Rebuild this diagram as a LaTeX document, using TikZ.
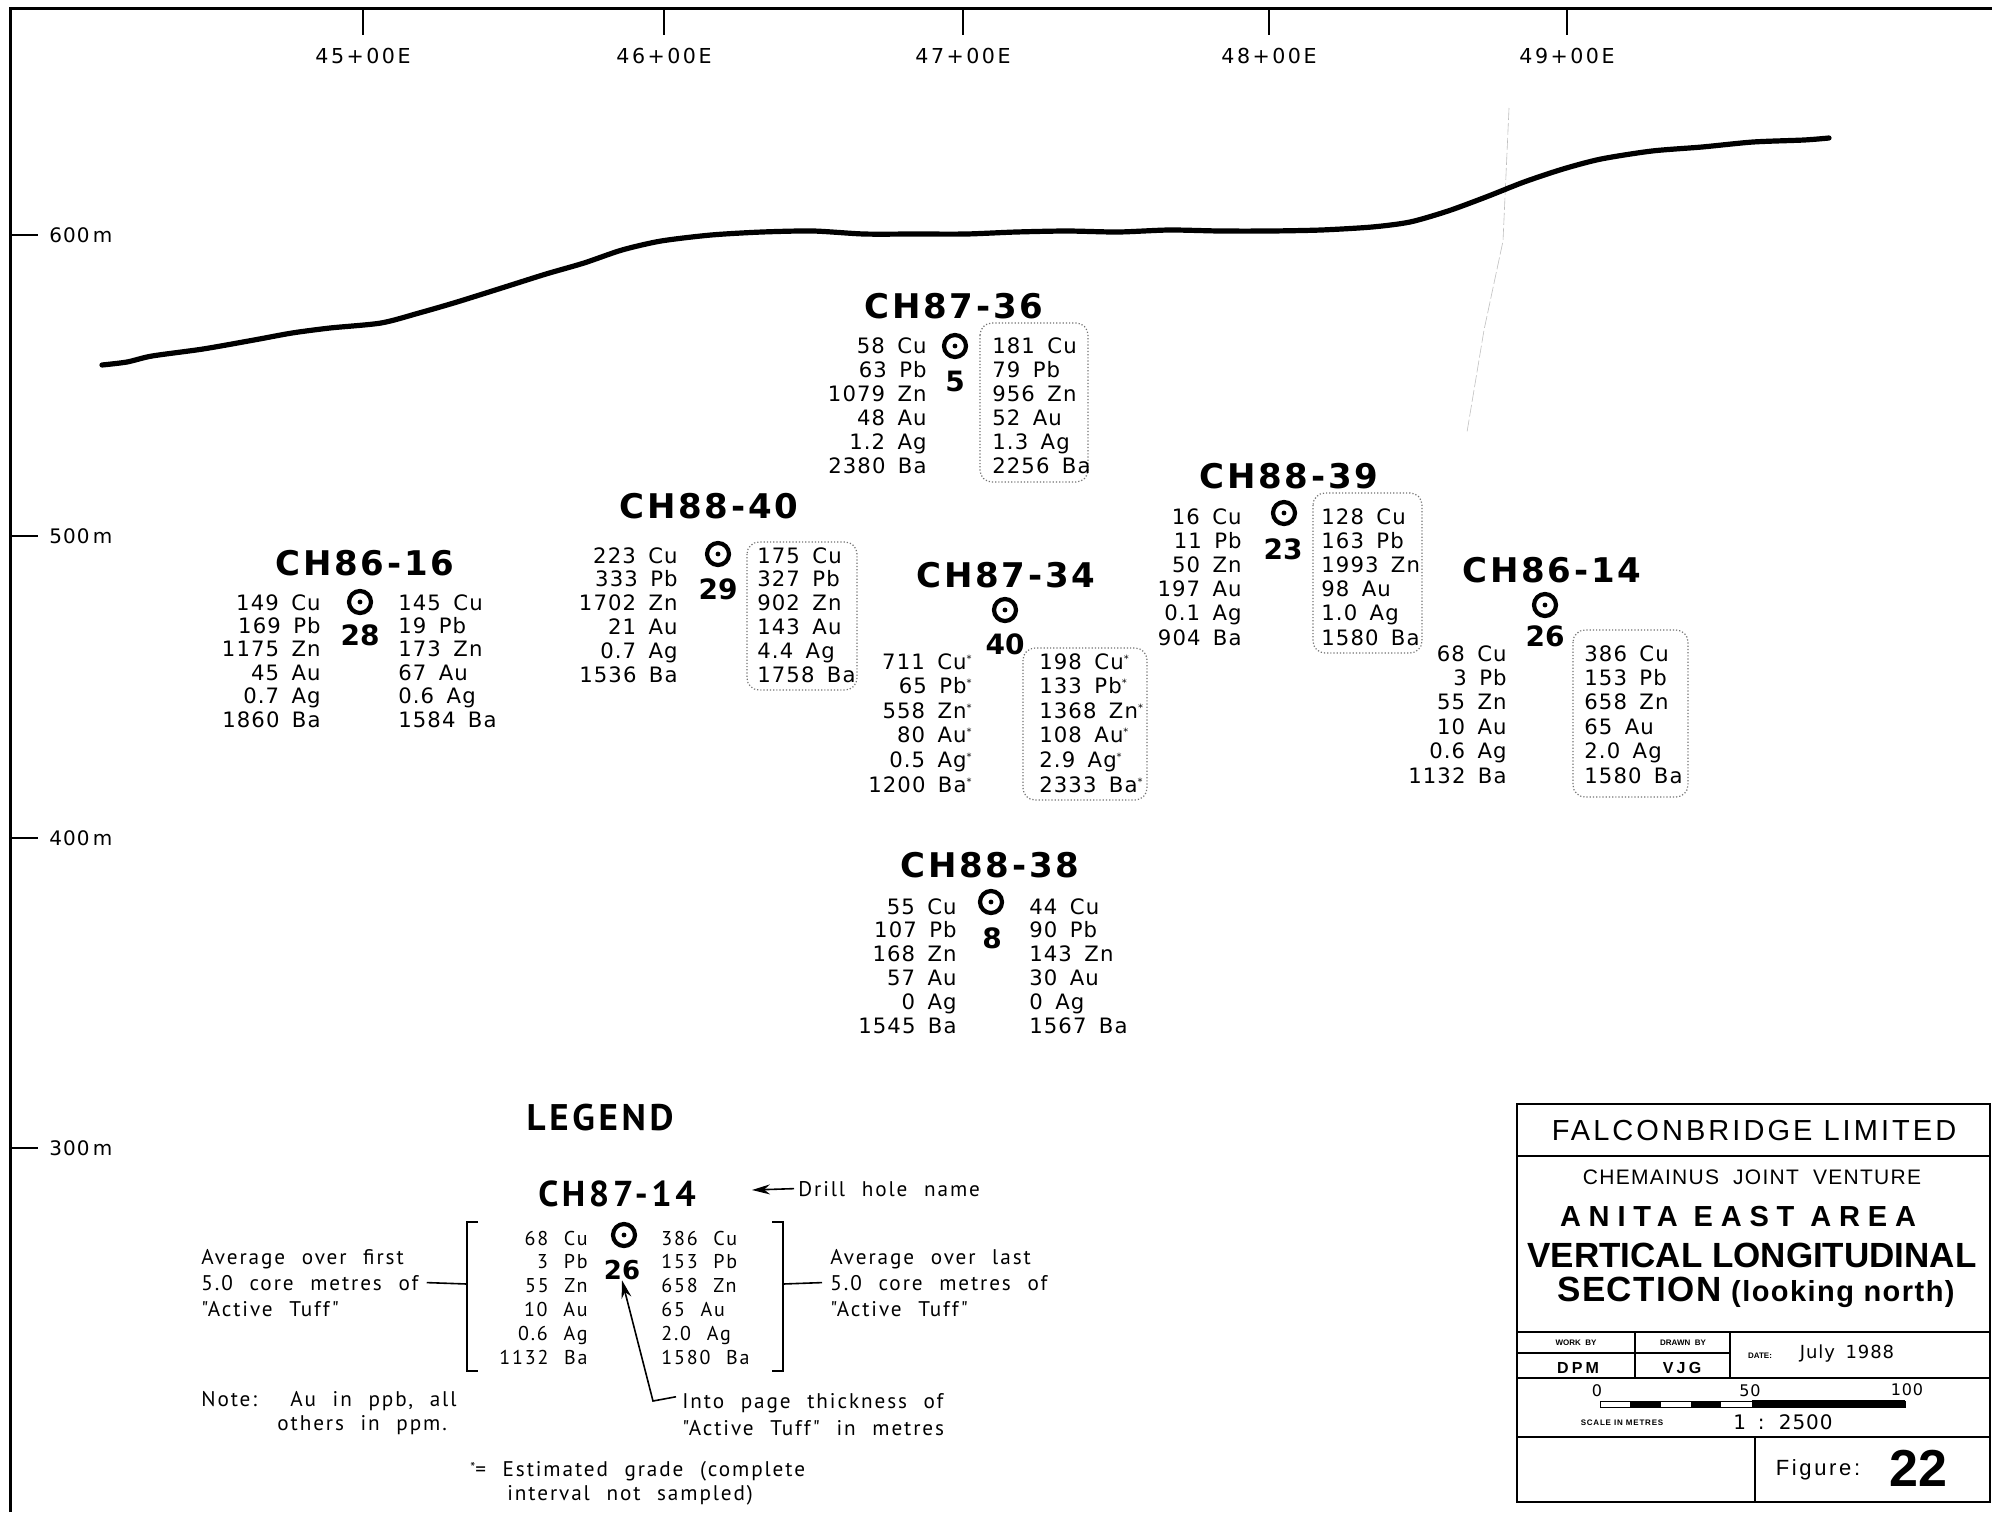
\documentclass[tikz,border=0pt]{standalone}
\usepackage{fontspec}
\usetikzlibrary{arrows.meta}
\newfontfamily\datf{DejaVu Sans}[LetterSpace=5,WordSpace=1.6]
\newfontfamily\ttlf{DejaVu Sans}[LetterSpace=8]
\newfontfamily\numf{DejaVu Sans}
\newfontfamily\legf{PT Sans}[WordSpace=2.2,LetterSpace=9]
\newfontfamily\legbf{PT Sans}[LetterSpace=10]
\newfontfamily\tbf{Liberation Sans}
\newfontfamily\tbw{Liberation Sans}[LetterSpace=6,WordSpace=2]
\newfontfamily\tbfs{Liberation Sans}[LetterSpace=27]
\newcommand\st{\raisebox{0.6ex}{\tiny*}}
\tikzset{
  ttl/.style={font=\ttlf\bfseries\fontsize{17}{18}\selectfont, inner sep=0},
  thick-num/.style={font=\numf\bfseries\fontsize{14}{15}\selectfont, inner sep=0},
  lcol/.style={font=\datf\fontsize{10.6}{12}\selectfont, inner sep=0, anchor=base east},
  rcol/.style={font=\datf\fontsize{10.6}{12}\selectfont, inner sep=0, anchor=base west},
  llcol/.style={font=\legf\fontsize{10}{11}\selectfont, inner sep=0, anchor=base east},
  lrcol/.style={font=\legf\fontsize{10}{11}\selectfont, inner sep=0, anchor=base west},
  hole/.style={circle, draw, line width=2.1pt, minimum size=11pt, inner sep=0},
  holedot/.style={circle, fill, minimum size=2.4pt, inner sep=0},
  hibox/.style={draw=black!55, densely dotted, line width=0.6pt, rounded corners=6pt},
  elab/.style={font=\datf\fontsize{10.3}{11}\selectfont\addfontfeatures{LetterSpace=12}, inner sep=0},
  mlab/.style={font=\datf\fontsize{10}{11}\selectfont, inner sep=0, anchor=west},
  legtxt/.style={font=\legf\fontsize{10.6}{12}\selectfont, inner sep=0, anchor=base west},
  tb/.style={inner sep=0},
}
\newcommand\rows[7]{%
  \foreach \i/\l/\r in {#7} {
    \node[#6 l] (#1l\i) at (#2, {#4+\i*#5}) {\l};
    \node[#6 r] (#1r\i) at (#3, {#4+\i*#5}) {\r};
  }}
\tikzset{d l/.style={lcol}, d r/.style={rcol}, g l/.style={llcol}, g r/.style={lrcol}}
\begin{document}
\begin{tikzpicture}[x=0.5pt,y=-0.5pt]
\useasboundingbox (0,0) rectangle (1992,1512);
\fill[white] (0,0) rectangle (1992,1512);
% frame
\draw[line width=1.5pt] (10,1512) -- (10,8) -- (1992,8);
\foreach \x/\lab [count=\k] in {363/45,664/46,963/47,1269/48,1567/49} {
  \draw[line width=0.9pt] (\x,8) -- (\x,35);
  \node[elab] (e\k) at (\x,56) {\lab+00E};
}
\foreach \y/\lab [count=\k] in {235/600,536/500,838/400,1148/300} {
  \draw[line width=1.2pt] (10,\y) -- (38,\y);
  \node[mlab] (m\k) at (49,\y) {\lab\,m};
}
% faint pencil line
\draw[black!25, line width=0.3pt, dash pattern=on 6pt off 1.5pt] (1509,108) -- (1503,241) -- (1484,330) -- (1467,432);
% terrain
\draw[line width=2.6pt, line cap=round, line join=round] plot[smooth, tension=0.45] coordinates {
 (102,365) (127,362) (152,356) (203,349) (254,340) (292,333) (330,328) (381,323)
 (419,313) (457,302) (508,286) (546,274) (584,263) (622,250) (661,241) (711,235)
 (762,232) (813,231) (864,234) (915,234) (966,234) (1016,232) (1067,231) (1118,232)
 (1169,230) (1220,231) (1270,231) (1321,230) (1372,227) (1410,222) (1448,211)
 (1486,197) (1524,182) (1563,169) (1601,159) (1652,151) (1702,147) (1753,142)
 (1804,140) (1829,138)};

% highlight boxes
\draw[hibox] (980,323) rectangle (1088,482);
\draw[hibox] (747,542) rectangle (857,690);
\draw[hibox] (1313,493) rectangle (1422,653);
\draw[hibox] (1023,648) rectangle (1147,800);
\draw[hibox] (1573,630) rectangle (1688,797);

% CH87-36
\node[ttl] (t36) at (954,306) {CH87-36};
\node[hole] (c36) at (955,346) {}; \node[holedot] (d36) at (c36) {};
\node[thick-num] (n36) at (955,381) {5};
\rows{h36}{927}{992}{353}{24}{d}{0/58 Cu/181 Cu,1/63 Pb/79 Pb,2/1079 Zn/956 Zn,3/48 Au/52 Au,4/1.2 Ag/1.3 Ag,5/2380 Ba/2256 Ba}

% CH88-40
\node[ttl] (t40) at (709,506) {CH88-40};
\node[hole] (c40) at (718,554) {}; \node[holedot] (d40) at (c40) {};
\node[thick-num] (n40) at (718,589) {29};
\rows{h40}{678}{757}{563}{23.8}{d}{0/223 Cu/175 Cu,1/333 Pb/327 Pb,2/1702 Zn/902 Zn,3/21 Au/143 Au,4/0.7 Ag/4.4 Ag,5/1536 Ba/1758 Ba}

% CH86-16
\node[ttl] (t16) at (365,563) {CH86-16};
\node[hole] (c16) at (360,602) {}; \node[holedot] (d16) at (c16) {};
\node[thick-num] (n16) at (360,635) {28};
\rows{h16}{321}{398}{610}{23.4}{d}{0/149 Cu/145 Cu,1/169 Pb/19 Pb,2/1175 Zn/173 Zn,3/45 Au/67 Au,4/0.7 Ag/0.6 Ag,5/1860 Ba/1584 Ba}

% CH88-39
\node[ttl] (t39) at (1289,476) {CH88-39};
\node[hole] (c39) at (1284,513) {}; \node[holedot] (d39) at (c39) {};
\node[thick-num] (n39) at (1283,549) {23};
\rows{h39}{1242}{1321}{524}{24.2}{d}{0/16 Cu/128 Cu,1/11 Pb/163 Pb,2/50 Zn/1993 Zn,3/197 Au/98 Au,4/0.1 Ag/1.0 Ag,5/904 Ba/1580 Ba}

% CH87-34
\node[ttl] (t34) at (1006,575) {CH87-34};
\node[hole] (c34) at (1005,610) {}; \node[holedot] (d34) at (c34) {};
\node[thick-num] (n34) at (1005,644) {40};
\rows{h34}{972}{1039}{669}{24.6}{d}{0/711 Cu\st/198 Cu\st,1/65 Pb\st/133 Pb\st,2/558 Zn\st/1368 Zn\st,3/80 Au\st/108 Au\st,4/0.5 Ag\st/2.9 Ag\st,5/1200 Ba\st/2333 Ba\st}

% CH86-14
\node[ttl] (t14) at (1552,570) {CH86-14};
\node[hole] (c14) at (1545,605) {}; \node[holedot] (d14) at (c14) {};
\node[thick-num] (n14) at (1545,636) {26};
\rows{h14}{1507}{1584}{661}{24.4}{d}{0/68 Cu/386 Cu,1/3 Pb/153 Pb,2/55 Zn/658 Zn,3/10 Au/65 Au,4/0.6 Ag/2.0 Ag,5/1132 Ba/1580 Ba}

% CH88-38
\node[ttl] (t38) at (990,865) {CH88-38};
\node[hole] (c38) at (991,902) {}; \node[holedot] (d38) at (c38) {};
\node[thick-num] (n38) at (992,938) {8};
\rows{h38}{957}{1029}{914}{23.8}{d}{0/55 Cu/44 Cu,1/107 Pb/90 Pb,2/168 Zn/143 Zn,3/57 Au/30 Au,4/0 Ag/0 Ag,5/1545 Ba/1567 Ba}

% LEGEND
\node[font=\legbf\bfseries\fontsize{18.5}{19}\selectfont, inner sep=0] (leg) at (600,1118) {LEGEND};
\node[font=\legbf\bfseries\fontsize{18}{19}\selectfont, inner sep=0] (t87) at (617,1194) {CH87-14};
\node[hole] (c87) at (624,1235) {}; \node[holedot] (d87) at (c87) {};
\node[font=\numf\bfseries\fontsize{13}{14}\selectfont, inner sep=0] (n87) at (622,1270) {26};
\rows{h87}{588}{661}{1245}{23.8}{g}{0/68 Cu/386 Cu,1/3 Pb/153 Pb,2/55 Zn/658 Zn,3/10 Au/65 Au,4/0.6 Ag/2.0 Ag,5/1132 Ba/1580 Ba}
% brackets
\draw[line width=1.1pt] (478,1222) -- (467,1222) -- (467,1371) -- (478,1371);
\draw[line width=1.1pt] (772,1222) -- (783,1222) -- (783,1371) -- (772,1371);
\coordinate (bl) at (467,1284);
\coordinate (br) at (783,1284);
% annotations
\node[legtxt] (a1) at (201,1264) {Average over first};
\node[legtxt] (a2) at (201,1290) {5.0 core metres of};
\node[legtxt] (a3) at (201,1316) {"Active Tuff"};
\draw[line width=0.8pt] (a2.east) ++(4pt,0) coordinate (a2e) -- (bl);
\node[legtxt] (b1) at (830,1264) {Average over last};
\node[legtxt] (b2) at (830,1290) {5.0 core metres of};
\node[legtxt] (b3) at (830,1316) {"Active Tuff"};
\draw[line width=0.8pt] (br) -- ([xshift=-4pt]b2.west);
\node[legtxt] (dh) at (798,1196) {Drill hole name};
\draw[line width=0.8pt, -{Stealth[length=9pt,width=5pt]}] ([xshift=-2pt]dh.west) -- (752,1190);
\node[legtxt] (i1) at (682,1408) {Into page thickness of};
\node[legtxt] (i2) at (682,1435) {"Active Tuff" in metres};
\coordinate (ia) at (653,1401);
\draw[line width=0.8pt, -{Stealth[length=9pt,width=5pt]}] ([xshift=-3pt,yshift=3pt]i1.west) -- (ia) -- (n87.south);
\node[legtxt] (no1) at (201,1406) {Note:\ \ Au in ppb, all};
\node[legtxt] (no2) at (277,1430) {others in ppm.};
\node[legtxt] (es1) at (470,1476) {\raisebox{0.35ex}{\scriptsize*}=\ Estimated grade (complete};
\node[legtxt] (es2) at (507,1500) {interval not sampled)};

% title block
\draw[line width=1.3pt] (1517,1104) rectangle (1990,1502);
\draw[line width=1.3pt] (1517,1156) -- (1990,1156);
\draw[line width=1.1pt] (1517,1332) -- (1990,1332);
\draw[line width=0.8pt] (1517,1353) -- (1730,1353);
\draw[line width=1.1pt] (1635,1332) -- (1635,1378);
\draw[line width=1.1pt] (1730,1332) -- (1730,1378);
\draw[line width=1.1pt] (1517,1378) -- (1990,1378);
\draw[line width=1.1pt] (1517,1437) -- (1990,1437);
\draw[line width=1.1pt] (1755,1437) -- (1755,1502);
\node[tb, font=\tbf\fontsize{14.5}{15}\selectfont\addfontfeatures{LetterSpace=10.5}] (fl) at (1754,1130) {FALCONBRIDGE LIMITED};
\node[tb, font=\tbw\fontsize{10.5}{12}\selectfont] (cjv) at (1752,1177) {CHEMAINUS JOINT VENTURE};
\node[tb, font=\tbfs\bfseries\fontsize{14.5}{15}\selectfont] (aea) at (1738,1216) {ANITA EAST AREA};
\node[tb, font=\tbf\bfseries\fontsize{17.5}{19}\selectfont] (vl) at (1752,1255) {VERTICAL LONGITUDINAL};
\node[tb, font=\tbf\bfseries\fontsize{17.5}{19}\selectfont] (sec) at (1756,1292) {{\addfontfeatures{LetterSpace=4}SECTION}\ {\fontsize{14.5}{15}\selectfont\addfontfeatures{LetterSpace=5}(looking north)}};
\node[tb, font=\tbf\bfseries\fontsize{4}{5}\selectfont] (wb) at (1576,1343) {WORK\ \ BY};
\node[tb, font=\tbf\bfseries\fontsize{4}{5}\selectfont] (drb) at (1683,1343) {DRAWN\ \ BY};
\node[tb, font=\tbf\bfseries\fontsize{8}{9}\selectfont\addfontfeatures{LetterSpace=20}] (dpm) at (1578,1368) {DPM};
\node[tb, font=\tbf\bfseries\fontsize{8}{9}\selectfont\addfontfeatures{LetterSpace=20}] (vjg) at (1682,1368) {VJG};
\node[tb, font=\tbf\bfseries\fontsize{4}{5}\selectfont] (dt) at (1760,1356) {DATE:};
\node[tb, font=\datf\fontsize{9}{10}\selectfont] (jul) at (1847,1354) {July 1988};
\node[tb, font=\datf\fontsize{8}{9}\selectfont] (s0) at (1597,1391) {0};
\node[tb, font=\datf\fontsize{8}{9}\selectfont] (s50) at (1750,1391) {50};
\node[tb, font=\datf\fontsize{8}{9}\selectfont] (s100) at (1907,1390) {100};
\draw[line width=0.5pt] (1600,1401) rectangle (1905,1407);
\fill (1630,1401) rectangle (1661,1407);
\fill (1691,1401) rectangle (1721,1407);
\fill (1752,1400) rectangle (1905,1408);
\node[tb, font=\tbf\bfseries\fontsize{4}{5}\selectfont\addfontfeatures{LetterSpace=10}] (sim) at (1622,1423) {SCALE\ IN\ METRES};
\node[tb, font=\datf\fontsize{10}{11}\selectfont] (sc) at (1783,1422) {1 : 2500};
\node[tb, font=\tbf\fontsize{11}{12}\selectfont\addfontfeatures{LetterSpace=12}] (fig) at (1818,1470) {Figure:};
\node[tb, font=\tbf\bfseries\fontsize{26}{27}\selectfont] (f22) at (1918,1468) {22};
\end{tikzpicture}
\end{document}
